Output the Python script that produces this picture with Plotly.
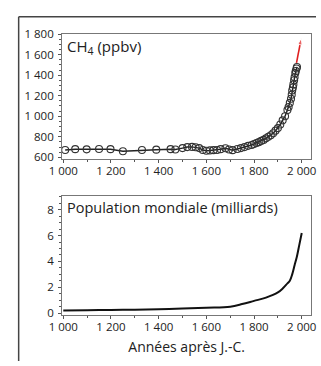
import plotly.graph_objects as go

# ---- data ----
ch4_years = [1008, 1050, 1098, 1150, 1198, 1250, 1330, 1390, 1450, 1470, 1500, 1520, 1540,
             1555, 1570, 1585, 1600, 1615, 1630, 1645, 1660, 1680, 1695, 1710, 1730, 1745,
             1760, 1775, 1790, 1800, 1810, 1820, 1830, 1840, 1850, 1860, 1870, 1880, 1890,
             1900, 1910, 1920, 1930, 1940, 1945, 1950, 1955, 1958, 1960, 1963, 1965, 1968,
             1970, 1973, 1975, 1978, 1980]
ch4_ppb = [672, 680, 678, 682, 680, 660, 672, 675, 680, 676, 690, 700, 702,
           698, 690, 672, 665, 668, 670, 672, 680, 688, 676, 670, 682, 690,
           700, 712, 720, 730, 740, 748, 760, 770, 785, 800, 815, 835, 860,
           885, 920, 960, 1000, 1060, 1090, 1130, 1170, 1210, 1250, 1280, 1310, 1350,
           1380, 1420, 1440, 1465, 1480]
recent_years = [1978, 1998]
recent_ppb = [1520, 1760]

pop_years = [1000, 1100, 1200, 1300, 1400, 1500, 1600, 1700, 1750, 1800, 1850, 1900,
             1920, 1940, 1950, 1960, 1970, 1980, 1990, 2000]
pop_bn = [0.2, 0.22, 0.25, 0.27, 0.3, 0.35, 0.42, 0.5, 0.7, 0.95, 1.2, 1.6,
          1.9, 2.3, 2.5, 3.0, 3.7, 4.4, 5.3, 6.2]

FONT = "Open Sans"
W, H = 321, 366

fig = go.Figure()
fig.add_trace(go.Scatter(x=ch4_years, y=ch4_ppb, mode="lines+markers",
                         line=dict(color="#222", width=1.5),
                         marker=dict(symbol="circle-open", size=7, color="#333",
                                     line=dict(width=1.1)),
                         xaxis="x", yaxis="y", showlegend=False))
fig.add_trace(go.Scatter(x=recent_years, y=recent_ppb, mode="lines+markers",
                         line=dict(color="#e02020", width=1.6),
                         marker=dict(symbol="arrow", angleref="previous", size=[0, 7],
                                     color="#e02020"),
                         xaxis="x", yaxis="y", showlegend=False))
fig.add_trace(go.Scatter(x=pop_years, y=pop_bn, mode="lines",
                         line=dict(color="#111", width=2, shape="spline"),
                         xaxis="x2", yaxis="y2", showlegend=False))

xdom = [52 / W, 316 / W]
axis_common = dict(showline=True, linecolor="#777", linewidth=1, mirror=True,
                   ticks="outside", ticklen=3, tickcolor="#555", showgrid=False,
                   zeroline=False, ticklabeloverflow="allow",
                   tickfont=dict(family=FONT, size=11.5, color="#222"))
xcommon = dict(axis_common, range=[995, 2040], dtick=200, tick0=1000,
               tickformat=",d", ticklabelstandoff=-2,
               minor=dict(dtick=100, tick0=1000, ticks="outside", ticklen=2,
                          tickcolor="#555"))

fig.update_layout(
    width=W, height=H,
    margin=dict(l=0, r=0, t=0, b=0),
    paper_bgcolor="white", plot_bgcolor="white",
    separators=", ",
    xaxis=dict(xcommon, domain=xdom, anchor="y"),
    yaxis=dict(axis_common, domain=[1 - 157 / H, 1 - 27 / H], anchor="x",
               range=[580, 1800], dtick=200, tick0=600, tickformat=",d",
               ticklabelstandoff=2,
               minor=dict(dtick=50, ticks="outside", ticklen=2, tickcolor="#555")),
    xaxis2=dict(xcommon, domain=xdom, anchor="y2",
                title=dict(text="Années après J.-C.", standoff=9,
                           font=dict(family=FONT, size=14, color="#222"))),
    yaxis2=dict(axis_common, domain=[1 - 318 / H, 1 - 195 / H], anchor="x2",
                range=[-0.12, 9.05], dtick=2, tick0=0, ticklabelstandoff=2,
                minor=dict(dtick=0.5, ticks="outside", ticklen=2, tickcolor="#555")),
    annotations=[
        dict(text="CH<sub>4</sub> (ppbv)", xref="paper", yref="paper",
             x=55 / W, y=1 - 27 / H, xanchor="left", yanchor="top", showarrow=False,
             font=dict(family=FONT, size=15, color="#222")),
        dict(text="Population mondiale (milliards)", xref="paper", yref="paper",
             x=55 / W, y=1 - 195 / H, xanchor="left", yanchor="top", showarrow=False,
             font=dict(family=FONT, size=14.5, color="#222")),
    ],
    shapes=[
        dict(type="line", xref="paper", yref="paper", x0=6 / W, x1=6 / W,
             y0=0, y1=1 - 9 / H, line=dict(color="#444", width=1.5)),
        dict(type="line", xref="paper", yref="paper", x0=6 / W, x1=1,
             y0=1 - 9 / H, y1=1 - 9 / H, line=dict(color="#444", width=1.5)),
    ],
)

fig.write_html("out.html")
